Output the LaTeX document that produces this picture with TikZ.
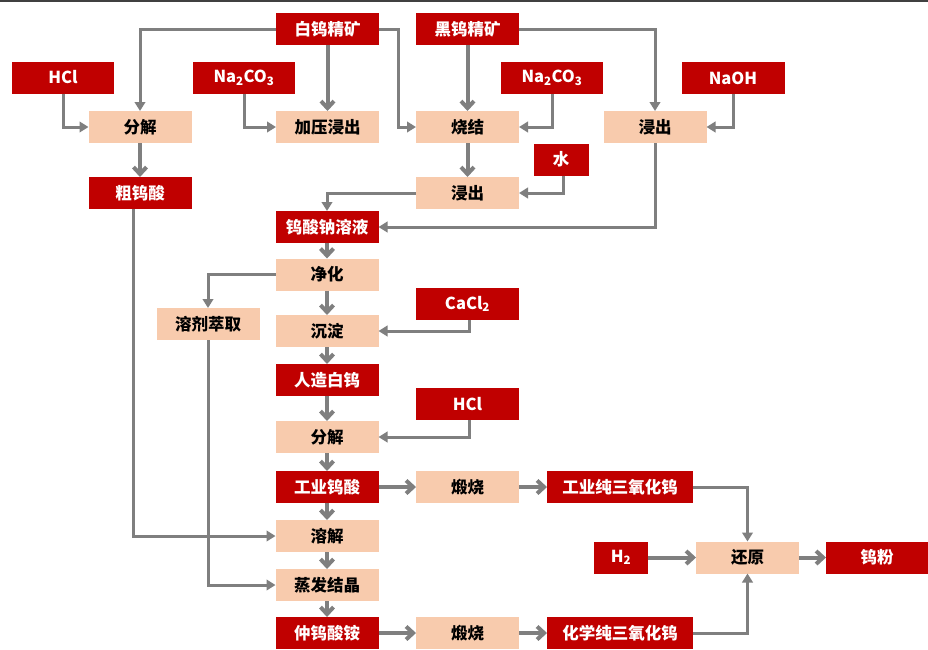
\documentclass[tikz,border=0pt]{standalone}
\usepackage{fontspec}
\setmainfont{Noto Sans CJK SC}
\usetikzlibrary{arrows.meta}
\definecolor{rd}{HTML}{C00000}
\definecolor{pc}{HTML}{F8CBAD}
\definecolor{ln}{HTML}{7F7F7F}
\definecolor{topln}{HTML}{404040}
\begin{document}
\begin{tikzpicture}[x=1pt,y=-1pt,
  box/.style={minimum width=103pt, minimum height=32pt, inner sep=0pt, outer sep=0pt,
              font=\fontsize{16.5}{18}\selectfont\bfseries},
  rb/.style={box, fill=rd, text=white},
  pb/.style={box, fill=pc, text=black},
  conn/.style={draw=ln, line width=3pt, -{Triangle[length=9pt,width=10.5pt]}},
  flow/.style={draw=ln, line width=4pt, -{Straight Barb[length=7pt,width=13pt]}}
]
\useasboundingbox (0,0) rectangle (928,649);
\fill[white] (0,0) rectangle (928,649);
\draw[topln, line width=1.5pt] (0,0.75) -- (928,0.75);

% nodes
\node[rb] (bwjk) at (327.5,29) {白钨精矿};
\node[rb] (hwjk) at (467.5,29) {黑钨精矿};
\node[rb, minimum width=102pt] (hcl1) at (63,77.5) {HCl};
\node[rb, minimum width=102pt] (na1) at (244,78) {Na\textsubscript{2}CO\textsubscript{3}};
\node[rb, minimum width=102pt] (na2) at (552,78) {Na\textsubscript{2}CO\textsubscript{3}};
\node[rb] (naoh) at (733,78) {NaOH};
\node[pb] (fj1) at (140,127) {分解};
\node[pb] (jyjc) at (327.5,127) {加压浸出};
\node[pb] (sj) at (467.5,127) {烧结};
\node[pb] (jc1) at (655,127) {浸出};
\node[rb, minimum width=55pt] (shui) at (561,159.5) {水};
\node[rb] (cws) at (140,193) {粗钨酸};
\node[pb] (jc2) at (467.5,193) {浸出};
\node[rb] (wsn) at (327,227) {钨酸钠溶液};
\node[pb] (jh) at (327,274.5) {净化};
\node[pb] (rjcq) at (208,324) {溶剂萃取};
\node[rb] (cacl) at (467.5,304) {CaCl\textsubscript{2}};
\node[pb] (cd) at (327,331) {沉淀};
\node[rb] (rzbw) at (327,380) {人造白钨};
\node[rb] (hcl2) at (467.5,404) {HCl};
\node[pb] (fj2) at (327,437) {分解};
\node[rb] (gyws) at (327,487) {工业钨酸};
\node[pb] (ds1) at (467.5,487) {煅烧};
\node[rb, minimum width=146pt] (gyc) at (620,487) {工业纯三氧化钨};
\node[pb] (rj) at (327,536) {溶解};
\node[rb, minimum width=54pt] (h2) at (621,557.5) {H\textsubscript{2}};
\node[pb] (hy) at (747.5,557.5) {还原};
\node[rb, minimum width=102pt] (wf) at (877,557.5) {钨粉};
\node[pb] (zfjj) at (327,585) {蒸发结晶};
\node[rb] (zws) at (327,633) {仲钨酸铵};
\node[pb] (ds2) at (467.5,633) {煅烧};
\node[rb, minimum width=146pt] (hxc) at (620,633) {化学纯三氧化钨};

% elbow connectors
\draw[conn] (bwjk.west) -| (fj1.north);
\draw[conn] (bwjk.east) -- ++(19,0) |- (sj.west);
\draw[conn] (hcl1.south) |- (fj1.west);
\draw[conn] (na1.south) |- (jyjc.west);
\draw[conn] (hwjk.east) -| (jc1.north);
\draw[conn] (na2.south) |- (sj.east);
\draw[conn] (naoh.south) |- (jc1.east);
\draw[conn] ([xshift=2pt]shui.south) |- (jc2.east);
\draw[conn] (jc2.west) -| (wsn.north);
\draw[conn] (jc1.south) |- (wsn.east);
\draw[conn] ([xshift=-7pt]cws.south) |- (rj.west);
\draw[conn] (jh.west) -| (rjcq.north);
\draw[conn] (rjcq.south) |- (zfjj.west);
\draw[conn] ([xshift=1.5pt]cacl.south) |- (cd.east);
\draw[conn] ([xshift=1.5pt]hcl2.south) |- (fj2.east);
\draw[conn] (gyc.east) -| (hy.north);
\draw[conn] (hxc.east) -| (hy.south);

% short flow arrows
\draw[flow] (bwjk.south -| jyjc.north) -- (jyjc.north);
\draw[flow] (fj1) -- (cws);
\draw[flow] (hwjk) -- (sj);
\draw[flow] (sj) -- (jc2);
\draw[flow] (wsn) -- (jh);
\draw[flow] (jh) -- (cd);
\draw[flow] (cd) -- (rzbw);
\draw[flow] (rzbw) -- (fj2);
\draw[flow] (fj2) -- (gyws);
\draw[flow] (gyws) -- (rj);
\draw[flow] (rj) -- (zfjj);
\draw[flow] (zfjj) -- (zws);
\draw[flow] (gyws) -- (ds1);
\draw[flow] (ds1) -- (gyc);
\draw[flow] (zws) -- (ds2);
\draw[flow] (ds2) -- (hxc);
\draw[flow] (h2) -- (hy);
\draw[flow] (hy) -- (wf);
\end{tikzpicture}
\end{document}
